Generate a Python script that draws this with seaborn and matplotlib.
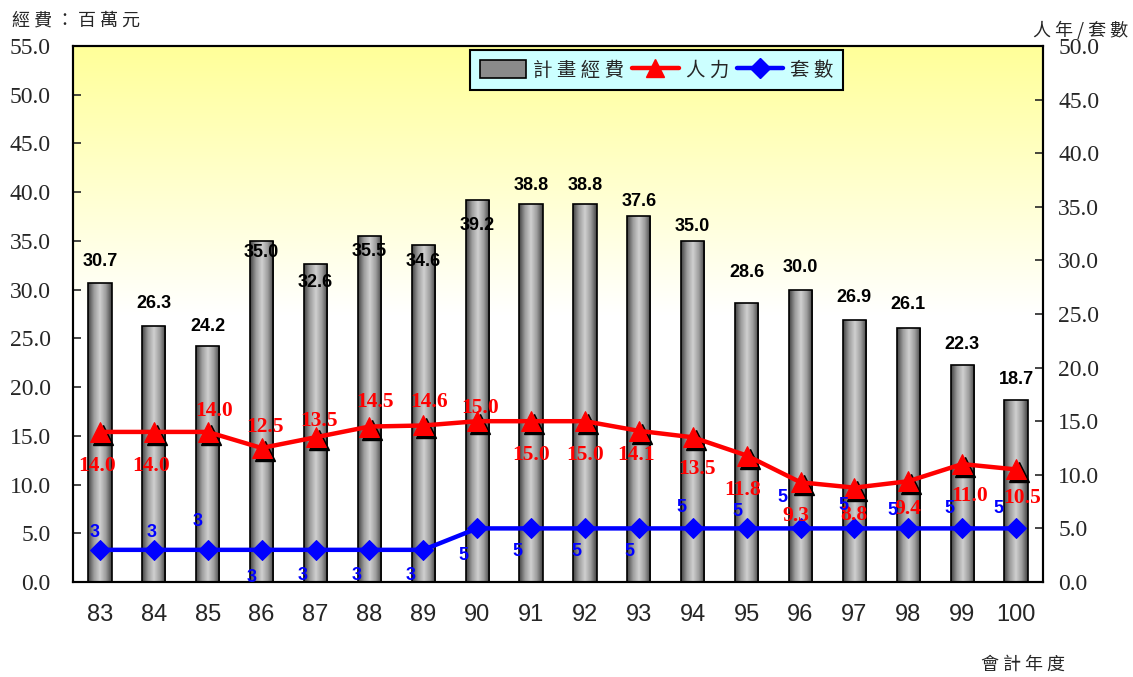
import numpy as np
import pandas as pd
import matplotlib
matplotlib.use("Agg")
import matplotlib.pyplot as plt
import matplotlib.transforms as mtransforms
from matplotlib.colors import LinearSegmentedColormap
from matplotlib.lines import Line2D
from matplotlib.patches import Patch
import seaborn as sns

years = ["83", "84", "85", "86", "87", "88", "89", "90", "91", "92",
         "93", "94", "95", "96", "97", "98", "99", "100"]
funds = [30.7, 26.3, 24.2, 35.0, 32.6, 35.5, 34.6, 39.2, 38.8, 38.8,
         37.6, 35.0, 28.6, 30.0, 26.9, 26.1, 22.3, 18.7]
manpower = [14.0, 14.0, 14.0, 12.5, 13.5, 14.5, 14.6, 15.0, 15.0, 15.0,
            14.1, 13.5, 11.8, 9.3, 8.8, 9.4, 11.0, 10.5]
sets = [3, 3, 3, 3, 3, 3, 3, 5, 5, 5, 5, 5, 5, 5, 5, 5, 5, 5]
legend_labels = ["計 畫 經 費", "人 力", "套 數"]

sns.set_theme(style="white")
plt.rcParams["font.family"] = ["Liberation Sans", "Noto Sans CJK TC", "DejaVu Sans"]
cjk = ["Noto Sans CJK TC", "DejaVu Sans"]
serif = ["Liberation Serif", "DejaVu Serif"]

fig = plt.figure(figsize=(11.33, 6.77), dpi=100)
ax = fig.add_axes([73 / 1133, 1 - 582 / 677, 970 / 1133, 536 / 677])
n = len(years)
xs = np.arange(n)

# yellow-to-white background of the plot area
bg = LinearSegmentedColormap.from_list("bg", ["#ffffff", "#ffffff", "#ffff99"])
ax.imshow(np.linspace(0, 1, 256).reshape(-1, 1), cmap=bg, aspect="auto",
          extent=(-0.5, n - 0.5, 0, 55), origin="lower", zorder=0)

df = pd.DataFrame({"year": years, "funds": funds})
sns.barplot(data=df, x="year", y="funds", color="#a0a0a0", width=0.43,
            edgecolor="black", linewidth=1.2, ax=ax, zorder=2)

# cylinder shading on each bar
cyl = LinearSegmentedColormap.from_list(
    "cyl", ["#404040", "#9c9c9c", "#d0d0d0", "#9c9c9c", "#404040"])
grad = np.linspace(0, 1, 256).reshape(1, -1)
for p in ax.patches:
    x0, y0 = p.get_x(), p.get_y()
    w, h = p.get_width(), p.get_height()
    im = ax.imshow(grad, cmap=cyl, aspect="auto",
                   extent=(x0, x0 + w, y0, y0 + h), zorder=2.1)
    im.set_clip_path(p)
    p.set_facecolor("none")
    p.set_zorder(2.2)

ax.set_xlim(-0.5, n - 0.5)
ax.set_ylim(0, 55)
ax.set_yticks(np.arange(0, 55.1, 5))
ax.set_yticklabels([f"{v:.1f}" for v in np.arange(0, 55.1, 5)],
                   family=serif, fontsize=17)
ax.set_xticks(xs)
ax.set_xticklabels(years, fontsize=17)
ax.set_xticks(xs[:-1] + 0.5, minor=True)
ax.tick_params(axis="x", which="major", length=0, pad=16)
ax.tick_params(axis="x", which="minor", direction="in", length=6, width=1.2)
ax.tick_params(axis="y", direction="in", length=6, width=1.2, pad=16, left=True)
ax.set_xlabel("")
ax.set_ylabel("")
for s in ax.spines.values():
    s.set_color("black")
    s.set_linewidth(1.5)

# funding value labels, vertical offset of the label centre in pixels
fund_dy = [21, 22, 20, -12, -18, -15, -17, -26, 18, 18, 14, 14, 31, 22, 22, 23, 20, 20]
for i, v in enumerate(funds):
    ax.annotate(f"{v:.1f}", (i, v), xytext=(0, fund_dy[i]),
                textcoords="offset pixels", ha="center", va="center",
                fontsize=13, fontweight="bold", color="black", zorder=6)

ax2 = ax.twinx()
ax2.set_ylim(0, 50)
ax2.set_yticks(np.arange(0, 50.1, 5))
ax2.set_yticklabels([f"{v:.1f}" for v in np.arange(0, 50.1, 5)],
                    family=serif, fontsize=17)
ax2.tick_params(axis="y", direction="in", length=6, width=1.2, pad=11)
for s in ax2.spines.values():
    s.set_color("black")
    s.set_linewidth(1.5)

# drop shadow under the triangles
shadow = mtransforms.offset_copy(ax2.transData, fig=fig, x=3, y=-3, units="dots")
ax2.plot(xs, manpower, linestyle="none", marker="^", markersize=14.5,
         color="black", transform=shadow, zorder=3)
sns.lineplot(x=xs, y=manpower, ax=ax2, color="red", linewidth=3.2,
             marker="^", markersize=14.5, markeredgecolor="red", sort=False, zorder=4)
sns.lineplot(x=xs, y=sets, ax=ax2, color="blue", linewidth=3.2,
             marker="D", markersize=10, markeredgecolor="blue", sort=False, zorder=4)

# manpower labels, offsets in pixels
man_off = [(-3, -34), (-3, -34), (6, 21), (3, 21), (3, 16), (6, 25), (6, 23), (3, 13),
           (0, -34), (0, -34), (-3, -24), (4, -32), (-4, -34), (-5, -34), (-1, -27),
           (0, -28), (7, -32), (6, -29)]
for i, v in enumerate(manpower):
    dx, dy = man_off[i]
    ax2.annotate(f"{v:.1f}", (i, v), xytext=(dx, dy), textcoords="offset pixels",
                 ha="center", va="center", color="red", fontsize=15.5,
                 fontweight="bold", family=serif, zorder=6)

# package-count labels, offsets in pixels
set_off = [(-5, 17), (-2, 17), (-10, 28), (-10, -28), (-13, -26), (-13, -26), (-13, -26),
           (-14, -27), (-14, -23), (-9, -23), (-9, -23), (-11, 21), (-9, 17),
           (-18, 31), (-11, 23), (-16, 18), (-13, 20), (-18, 20)]
for i, v in enumerate(sets):
    dx, dy = set_off[i]
    ax2.annotate(f"{v}", (i, v), xytext=(dx, dy), textcoords="offset pixels",
                 ha="center", va="center", color="blue", fontsize=13,
                 fontweight="bold", zorder=6)

handles = [
    Patch(facecolor="#8a8a8a", edgecolor="black", linewidth=1.2),
    Line2D([], [], color="red", linewidth=3.2, marker="^", markersize=13),
    Line2D([], [], color="blue", linewidth=3.2, marker="D", markersize=10),
]
leg = ax2.legend(handles, legend_labels, loc="upper left",
                 bbox_to_anchor=((470 - 73) / 970, (582 - 50) / 536),
                 borderaxespad=0, ncol=3, frameon=True,
                 fancybox=False, edgecolor="black", facecolor="#ccffff",
                 framealpha=1, prop={"family": cjk, "size": 14},
                 handlelength=2.4, handleheight=1.0, handletextpad=0.35,
                 columnspacing=0.4, borderpad=0.5)
leg.get_frame().set_linewidth(1.5)
leg.set_zorder(10)

fig.text(12 / 1133, 0.970, "經 費 ： 百 萬 元", family=cjk, fontsize=13,
         ha="left", va="center")
fig.text(1128 / 1133, 1 - 30 / 677, "人 年 / 套 數", family=cjk, fontsize=13,
         ha="right", va="center")
fig.text(1065 / 1133, 1 - 665 / 677, "會 計 年 度", family=cjk, fontsize=13,
         ha="right", va="center")

fig.savefig("out.png", dpi=100, facecolor="white")
